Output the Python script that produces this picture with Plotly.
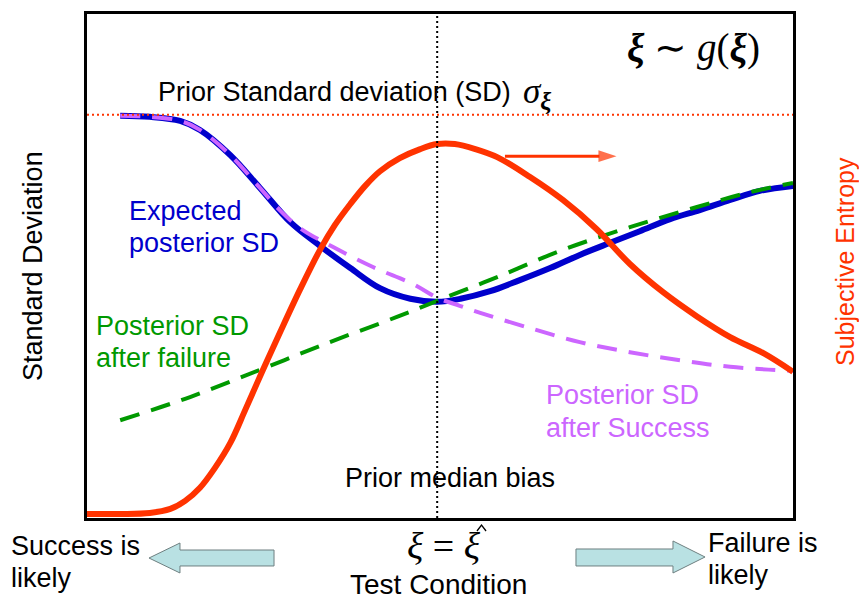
import plotly.graph_objects as go

# ---- data: test condition (0-100 across the frame) vs. standard deviation (0-100) ----
xi_hat = 49.6        # prior median bias of the test condition
prior_sd = 80.0      # prior standard deviation sigma_xi

expected_x = [4.7, 8.9, 13.2, 16.0, 20.3, 24.5, 28.8, 33.0, 37.3, 41.5, 45.8, 49.6,
              52.9, 57.1, 61.3, 65.6, 69.8, 74.1, 78.3, 82.6, 86.8, 91.1, 95.3, 100.0]
expected_sd = [79.8, 79.6, 78.8, 77.0, 72.0, 65.5, 58.7, 54.0, 49.6, 45.6, 43.5, 42.9,
               43.5, 45.0, 47.2, 49.6, 52.2, 54.6, 56.9, 59.3, 61.1, 63.1, 64.9, 65.9]

success_x = [4.7, 8.9, 13.2, 16.0, 20.3, 24.5, 27.3, 30.2, 34.8, 40.5, 46.2, 49.6,
             52.8, 55.7, 62.7, 69.8, 76.9, 84.0, 91.1, 100.0]
success_sd = [79.8, 79.6, 78.8, 77.0, 72.0, 65.5, 61.1, 57.5, 53.8, 49.8, 46.4, 43.7,
              42.1, 40.7, 37.7, 34.9, 32.9, 31.3, 30.0, 29.2]

failure_x = [4.7, 14.6, 24.5, 34.4, 43.9, 49.6, 58.1, 67.4, 76.9, 86.4, 93.5, 100.0]
failure_sd = [19.4, 24.0, 29.4, 34.9, 39.9, 43.1, 47.8, 53.2, 57.7, 61.7, 64.5, 66.5]

entropy_x = [0.0, 4.7, 8.9, 11.8, 13.9, 16.0, 18.1, 20.3, 22.4, 24.8, 27.3, 30.2,
             33.0, 35.1, 37.3, 39.4, 41.5, 44.3, 47.2, 49.6, 52.1, 55.0, 58.1, 62.7,
             67.4, 72.2, 76.9, 81.6, 86.4, 91.1, 95.8, 100.0]
entropy = [0.8, 0.8, 1.0, 1.8, 3.4, 6.0, 9.9, 14.9, 21.4, 29.0, 36.7, 45.4,
           53.2, 58.1, 62.3, 65.9, 68.8, 71.4, 73.2, 74.2, 74.2, 73.2, 71.6, 67.7,
           63.1, 57.3, 50.4, 44.8, 40.0, 35.9, 32.7, 29.0]

# entropy direction arrow (test-condition span, height)
entropy_arrow_x = [59.2, 75.0]
entropy_arrow_y = [71.8, 71.8]

# ---- canvas geometry ----
W, H = 859, 601
ML, MR, MT, MB = 87, 66, 14, 83
PW, PH = W - ML - MR, H - MT - MB


def paper(px, py):
    """Canvas pixel position -> paper coordinates."""
    return (px - ML) / PW, (H - MB - py) / PH


BLUE = "#0000CC"
PURPLE = "#CC66FF"
GREEN = "#009900"
RED = "#FF3300"
SANS = "Liberation Sans, Arial, sans-serif"
SERIF = "Liberation Serif, Times New Roman, serif"

fig = go.Figure()
fig.add_trace(go.Scatter(x=expected_x, y=expected_sd, mode="lines",
                         line=dict(color=BLUE, width=6, shape="spline"),
                         hoverinfo="skip", showlegend=False))
fig.add_trace(go.Scatter(x=failure_x, y=failure_sd, mode="lines",
                         line=dict(color=GREEN, width=4, dash="20px,12px", shape="spline"),
                         hoverinfo="skip", showlegend=False))
fig.add_trace(go.Scatter(x=success_x, y=success_sd, mode="lines",
                         line=dict(color=PURPLE, width=4, dash="20px,12px", shape="spline"),
                         hoverinfo="skip", showlegend=False))
fig.add_trace(go.Scatter(x=entropy_x, y=entropy, mode="lines",
                         line=dict(color=RED, width=6, shape="spline"),
                         hoverinfo="skip", showlegend=False))
fig.add_trace(go.Scatter(x=entropy_arrow_x, y=entropy_arrow_y, mode="lines+markers",
                         line=dict(color=RED, width=3),
                         marker=dict(symbol="arrow", angleref="previous", size=[0, 19],
                                     color=RED, line=dict(width=0)),
                         hoverinfo="skip", showlegend=False))

# prior SD level and prior median bias
fig.add_shape(type="line", xref="x", yref="y", x0=0, x1=100, y0=prior_sd, y1=prior_sd,
              line=dict(color=RED, width=2, dash="2px,3px"), layer="above")
fig.add_shape(type="line", xref="x", yref="y", x0=xi_hat, x1=xi_hat, y0=0, y1=100,
              line=dict(color="black", width=2, dash="2px,3px"), layer="above")


def pixel_path(points, closed=True):
    pts = [paper(px, py) for px, py in points]
    path = "M " + " L ".join(f"{x:.4f},{y:.4f}" for x, y in pts)
    return path + (" Z" if closed else "")


# block arrows under the frame
for pts in ([(149, 558), (180, 543), (180, 550), (274, 550), (274, 566),
             (180, 566), (180, 573)],
            [(705, 557), (673, 541), (673, 549), (576, 549), (576, 566),
             (673, 566), (673, 573)]):
    fig.add_shape(type="path", xref="paper", yref="paper", path=pixel_path(pts),
                  fillcolor="#B9E1E3", line=dict(color="#6E7F80", width=1))

# hat over the estimated test condition
fig.add_shape(type="path", xref="paper", yref="paper",
              path=pixel_path([(477, 531), (481.5, 525), (486, 531)], closed=False),
              line=dict(color="black", width=1.3))


def label(text, px, py, color="black", size=27, anchor="left", family=SANS, angle=0):
    x, y = paper(px, py)
    fig.add_annotation(x=x, y=y, xref="paper", yref="paper", text=text,
                       showarrow=False, xanchor=anchor, yanchor="middle", borderpad=0,
                       textangle=angle, font=dict(family=family, size=size, color=color))


label("<b><i>ξ</i></b> ∼ <i>g</i>(<b><i>ξ</i></b>)", 693, 48, size=39, anchor="center",
      family=SERIF)
label("Prior Standard deviation (SD)", 157, 92)
label("<i>σ</i><sub><b><i>ξ</i></b></sub>", 522, 93, size=35, family=SERIF)
label("Expected", 128, 211, color=BLUE)
label("posterior SD", 128, 243, color=BLUE)
label("Posterior SD", 95, 326, color=GREEN)
label("after failure", 95, 358, color=GREEN)
label("Posterior SD", 545, 395, color=PURPLE)
label("after Success", 545, 428, color=PURPLE)
label("Prior median bias", 450, 478, anchor="center")
label("Standard Deviation", 33, 266, anchor="center", angle=-90)
label("Subjective Entropy", 845, 262, color=RED, size=25, anchor="center", angle=-90)
label("Success is", 10, 546)
label("likely", 10, 578)
label("Failure is", 707, 543)
label("likely", 707, 575)
label("<i>ξ</i> = <i>ξ</i>", 444, 546, size=38, anchor="center", family=SERIF)
label("Test Condition", 438, 584, size=28, anchor="center")

axis = dict(range=[0, 100], showgrid=False, zeroline=False, showticklabels=False,
            ticks="", showline=True, mirror=True, linecolor="black", linewidth=3,
            fixedrange=True)
fig.update_layout(width=W, height=H, margin=dict(l=ML, r=MR, t=MT, b=MB),
                  plot_bgcolor="white", paper_bgcolor="white",
                  xaxis=axis, yaxis=axis, showlegend=False)

fig.write_html("out.html")
